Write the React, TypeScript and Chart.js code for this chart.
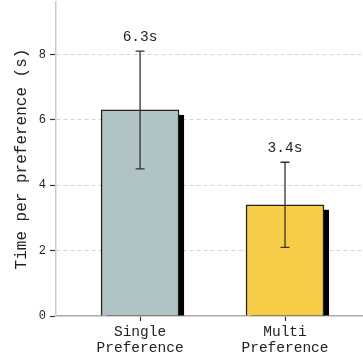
import React, { useEffect, useRef } from "react";
import { Chart, registerables } from "chart.js";

Chart.register(...registerables);

const categories = [["Single", "Preference"], ["Multi", "Preference"]];
const meanTimes = [6.3, 3.4];
const errLow = [4.5, 2.1];
const errHigh = [8.1, 4.7];
const valueLabels = ["6.3s", "3.4s"];
const barColors = ["#b0c4c6", "#f7cd47"];
const yTicks = [0, 2, 4, 6, 8];
const xPositions = [0, 1];

const FONT = "'Liberation Mono', 'DejaVu Sans Mono', monospace";

const decorPlugin = {
  id: "decor",
  beforeDatasetsDraw(chart: any) {
    const ctx = chart.ctx;
    const meta = chart.getDatasetMeta(0);
    ctx.save();
    ctx.fillStyle = "#000";
    meta.data.forEach((bar: any) => {
      const p = bar.getProps(["x", "y", "base", "width"], true);
      const left = p.x - p.width / 2 + 5;
      ctx.fillRect(left, p.y + 5, p.width, p.base - p.y - 5);
    });
    ctx.restore();
  },
  afterDatasetsDraw(chart: any) {
    const ctx = chart.ctx;
    const xs = chart.scales.x;
    const ys = chart.scales.y;
    ctx.save();
    ctx.strokeStyle = "#333";
    ctx.lineWidth = 1.3;
    xPositions.forEach((xv, i) => {
      const x = xs.getPixelForValue(xv);
      const yt = ys.getPixelForValue(errHigh[i]);
      const yb = ys.getPixelForValue(errLow[i]);
      ctx.beginPath();
      ctx.moveTo(x, yt);
      ctx.lineTo(x, yb);
      ctx.moveTo(x - 4.5, yt);
      ctx.lineTo(x + 4.5, yt);
      ctx.moveTo(x - 4.5, yb);
      ctx.lineTo(x + 4.5, yb);
      ctx.stroke();
      ctx.fillStyle = "#222";
      ctx.font = `14.5px ${FONT}`;
      ctx.textAlign = "center";
      ctx.textBaseline = "middle";
      ctx.fillText(valueLabels[i], x, yt - 14);
    });
    ctx.restore();
  },
};

export default function App() {
  const ref = useRef<HTMLCanvasElement>(null);
  useEffect(() => {
    if (!ref.current) return;
    const chart = new Chart(ref.current, {
      type: "bar",
      data: {
        datasets: [
          {
            data: xPositions.map((x, i) => ({ x, y: meanTimes[i] })),
            backgroundColor: barColors,
            borderColor: "#222",
            borderWidth: 1.5,
            barThickness: 78,
          } as any,
        ],
      },
      plugins: [decorPlugin],
      options: {
        animation: false,
        responsive: false,
        layout: { padding: { top: 2, left: 0, right: 0, bottom: 0 } },
        plugins: { legend: { display: false }, tooltip: { enabled: false } },
        scales: {
          x: {
            type: "linear",
            offset: false,
            min: -0.58,
            max: 1.538,
            afterFit(scale: any) {
              scale.height = 46;
              scale.paddingLeft = 0;
              scale.paddingRight = 0;
            },
            afterBuildTicks(scale: any) {
              scale.ticks = xPositions.map((v) => ({ value: v }));
            },
            grid: {
              offset: false,
              drawOnChartArea: false,
              drawTicks: true,
              tickLength: 5,
              tickColor: "#333",
              tickWidth: 1.2,
            },
            border: { color: "#aaa", width: 1.5 },
            ticks: {
              padding: 3,
              color: "#222",
              font: { family: FONT, size: 14.5, lineHeight: 1.1 },
              maxRotation: 0,
              autoSkip: false,
              callback: (v: any) => categories[Math.round(Number(v))] as any,
            },
          },
          y: {
            min: 0,
            max: 9.6,
            afterFit(scale: any) {
              scale.width = 56;
              scale.paddingTop = 0;
              scale.paddingBottom = 0;
            },
            afterBuildTicks(scale: any) {
              scale.ticks = yTicks.map((v) => ({ value: v }));
            },
            grid: {
              color: (c: any) => (c.tick && c.tick.value === 0 ? "rgba(0,0,0,0)" : "#d4d4d4"),
              lineWidth: 1,
              tickLength: 6,
              tickColor: "#333",
              tickWidth: 1.2,
            },
            border: { color: "#cccccc", width: 1.5, dash: [4, 3] },
            title: {
              display: true,
              text: "Time per preference (s)",
              color: "#222",
              font: { family: FONT, size: 16 },
              padding: { top: 12, bottom: 0 },
            },
            ticks: {
              padding: 4,
              color: "#222",
              font: { family: FONT, size: 12 },
              callback: (v: any) => String(v),
            },
          },
        },
      },
    } as any);
    return () => chart.destroy();
  }, []);
  return (
    <div style={{ position: "absolute", left: 0, top: 0, width: 363, height: 362 }}>
      <canvas ref={ref} width={363} height={362} />
    </div>
  );
}
